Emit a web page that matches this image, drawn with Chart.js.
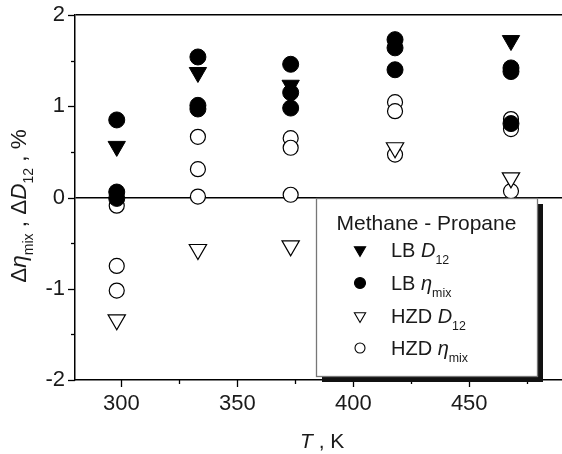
<!DOCTYPE html>
<html>
<head>
<meta charset="utf-8">
<script src="https://cdn.jsdelivr.net/npm/chart.js@4.4.1/dist/chart.umd.min.js"></script>
<style>
  html, body { margin: 0; padding: 0; background: #fff; }
</style>
</head>
<body>
<canvas id="chart" width="562" height="454"></canvas>
<script>
// values (T in K, deviation in %)
const lbD12T = [298, 333, 373, 468];
const lbD12 = [0.56, 1.37, 1.23, 1.72];

const lbEtaT = [298, 298, 298, 333, 333, 333, 373, 373, 373, 418, 418, 418, 468, 468, 468];
const lbEta = [0.85, 0.06, -0.01, 1.54, 1.01, 0.97, 1.46, 1.15, 0.98, 1.73, 1.64, 1.40, 1.42, 1.38, 0.81];

const hzdD12T = [298, 333, 373, 418, 468];
const hzdD12 = [-1.34, -0.57, -0.53, 0.545, 0.215];

const hzdEtaT = [298, 298, 298, 333, 333, 333, 373, 373, 373, 418, 418, 418, 468, 468, 468];
const hzdEta = [-0.09, -0.75, -1.02, 0.665, 0.31, 0.01, 0.65, 0.545, 0.03, 1.045, 0.946, 0.47, 0.86, 0.75, 0.07];

const xTicks = [300, 325, 350, 375, 400, 425, 450, 475];
const yTicks = [-2, -1.5, -1, -0.5, 0, 0.5, 1, 1.5, 2];

const FONT = '"Liberation Sans", Arial, Helvetica, sans-serif';
const INK = '#1a1a1a';

const pts = (xs, ys) => xs.map((x, i) => ({ x: x, y: ys[i] }));

// draw text made of pieces: {t, it (italic), sub (subscript)}
function richWidth(ctx, segs, size) {
    let w = 0;
    segs.forEach(s => {
        ctx.font = (s.it ? 'italic ' : '') + (s.sub ? size * 0.62 : size) + 'px ' + FONT;
        w += ctx.measureText(s.t).width;
    });
    return w;
}
function drawRich(ctx, segs, x, y, size) {
    segs.forEach(s => {
        ctx.font = (s.it ? 'italic ' : '') + (s.sub ? size * 0.62 : size) + 'px ' + FONT;
        ctx.fillText(s.t, x, s.sub ? y + size * 0.33 : y);
        x += ctx.measureText(s.t).width;
    });
}

function marker(ctx, style, filled, x, y, r) {
    ctx.beginPath();
    if (style === 'circle') {
        ctx.arc(x, y, r, 0, Math.PI * 2);
    } else {
        ctx.moveTo(x - r * 0.866, y - r * 0.5);
        ctx.lineTo(x + r * 0.866, y - r * 0.5);
        ctx.lineTo(x, y + r);
        ctx.closePath();
    }
    ctx.fillStyle = filled ? '#000' : '#fff';
    ctx.fill();
    ctx.lineWidth = 1.1;
    ctx.strokeStyle = '#000';
    ctx.stroke();
}

const decorPlugin = {
    id: 'decor',
    afterDraw(chart) {
        const ctx = chart.ctx;
        const xs = chart.scales.x, ys = chart.scales.y;
        const area = chart.chartArea;
        ctx.save();

        // tick marks, outward, major longer than minor
        ctx.strokeStyle = '#000';
        ctx.lineWidth = 1.3;
        xTicks.forEach(v => {
            const px = Math.round(xs.getPixelForValue(v)) + 0.5;
            const len = v % 50 === 0 ? 7 : 4;
            ctx.beginPath();
            ctx.moveTo(px, area.bottom);
            ctx.lineTo(px, area.bottom + len);
            ctx.stroke();
        });
        yTicks.forEach(v => {
            const py = Math.round(ys.getPixelForValue(v)) + 0.5;
            const len = Number.isInteger(v) ? 7 : 4;
            ctx.beginPath();
            ctx.moveTo(area.left - len, py);
            ctx.lineTo(area.left, py);
            ctx.stroke();
        });

        // axis titles
        ctx.fillStyle = INK;
        ctx.textBaseline = 'alphabetic';
        ctx.textAlign = 'left';
        drawRich(ctx, [{ t: 'T', it: true }, { t: ' , K' }], 300, 448, 21);

        const yTitle = [
            { t: '\u0394' }, { t: '\u03b7', it: true }, { t: 'mix', sub: true }, { t: ' , ' },
            { t: '\u0394' }, { t: 'D', it: true }, { t: '12', sub: true }, { t: ' , %' }
        ];
        ctx.save();
        ctx.translate(26, 206);
        ctx.rotate(-Math.PI / 2);
        const yw = richWidth(ctx, yTitle, 22.5);
        drawRich(ctx, yTitle, -yw / 2, 0, 22.5);
        ctx.restore();

        // legend box with shadow
        const bx = 316, by = 198, bw = 221, bh = 178;
        ctx.fillStyle = '#111';
        ctx.fillRect(bx + 6, by + 6, bw, bh);
        ctx.fillStyle = '#fff';
        ctx.fillRect(bx, by, bw, bh);
        ctx.strokeStyle = '#777';
        ctx.lineWidth = 1.3;
        ctx.strokeRect(bx + 0.5, by + 0.5, bw, bh);

        ctx.fillStyle = INK;
        ctx.font = '21px ' + FONT;
        ctx.textAlign = 'center';
        ctx.fillText('Methane - Propane', bx + bw / 2, 230);
        ctx.textAlign = 'left';

        const rows = [
            { style: 'tri', filled: true, r: 6.5, segs: [{ t: 'LB ' }, { t: 'D', it: true }, { t: '12', sub: true }] },
            { style: 'circle', filled: true, r: 5.5, segs: [{ t: 'LB ' }, { t: '\u03b7', it: true }, { t: 'mix', sub: true }] },
            { style: 'tri', filled: false, r: 6.5, segs: [{ t: 'HZD ' }, { t: 'D', it: true }, { t: '12', sub: true }] },
            { style: 'circle', filled: false, r: 5, segs: [{ t: 'HZD ' }, { t: '\u03b7', it: true }, { t: 'mix', sub: true }] }
        ];
        const rowY = [250, 283, 316, 348];
        rows.forEach((row, i) => {
            marker(ctx, row.style, row.filled, 360, rowY[i], row.r);
            ctx.fillStyle = INK;
            drawRich(ctx, row.segs, 391, rowY[i] + 7, 20);
        });

        ctx.restore();
    }
};

new Chart(document.getElementById('chart'), {
    type: 'scatter',
    data: {
        datasets: [
            {
                label: 'LB D12',
                data: pts(lbD12T, lbD12),
                pointStyle: 'triangle',
                rotation: 180,
                radius: 10,
                backgroundColor: '#000',
                borderColor: '#000',
                borderWidth: 1
            },
            {
                label: 'LB eta mix',
                data: pts(lbEtaT, lbEta),
                pointStyle: 'circle',
                radius: 8,
                backgroundColor: '#000',
                borderColor: '#000',
                borderWidth: 1
            },
            {
                label: 'HZD D12',
                data: pts(hzdD12T, hzdD12),
                pointStyle: 'triangle',
                rotation: 180,
                radius: 10,
                backgroundColor: '#fff',
                borderColor: '#000',
                borderWidth: 1.2
            },
            {
                label: 'HZD eta mix',
                data: pts(hzdEtaT, hzdEta),
                pointStyle: 'circle',
                radius: 7.5,
                backgroundColor: '#fff',
                borderColor: '#000',
                borderWidth: 1.2
            }
        ]
    },
    options: {
        responsive: false,
        animation: false,
        devicePixelRatio: 1,
        events: [],
        layout: { autoPadding: false, padding: { top: 15, right: 0, left: 0, bottom: 0 } },
        plugins: {
            legend: { display: false },
            tooltip: { enabled: false }
        },
        scales: {
            x: {
                type: 'linear',
                min: 280,
                max: 490,
                afterBuildTicks: s => { s.ticks = xTicks.map(v => ({ value: v })); },
                afterFit: s => { s.height = 74; s.paddingLeft = 0; s.paddingRight = 0; },
                ticks: {
                    callback: v => (v % 50 === 0 ? String(v) : ''),
                    autoSkip: false,
                    maxRotation: 0,
                    padding: 11,
                    color: INK,
                    font: { family: FONT, size: 22 }
                },
                grid: { drawOnChartArea: false, drawTicks: false },
                border: { color: '#000', width: 1.5 }
            },
            y: {
                min: -2,
                max: 2,
                afterBuildTicks: s => { s.ticks = yTicks.map(v => ({ value: v })); },
                afterFit: s => { s.width = 75; s.paddingTop = 0; s.paddingBottom = 0; },
                ticks: {
                    callback: v => (Number.isInteger(v) ? String(v) : ''),
                    autoSkip: false,
                    padding: 10,
                    color: INK,
                    font: { family: FONT, size: 22 }
                },
                grid: {
                    drawTicks: false,
                    lineWidth: 1.5,
                    color: c => (c.tick && (c.tick.value === 0 || c.tick.value === 2) ? '#000' : 'rgba(0,0,0,0)')
                },
                border: { color: '#000', width: 1.5 }
            }
        }
    },
    plugins: [decorPlugin]
});
</script>
</body>
</html>
